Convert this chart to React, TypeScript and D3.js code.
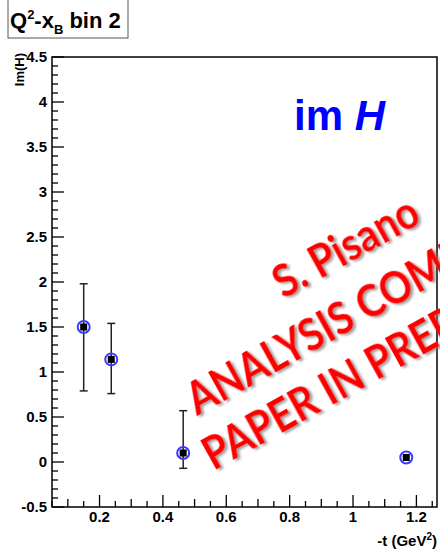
import React from "react";
import * as d3 from "d3";

// -t values (GeV^2) and Im(H) extracted per point
const tValues = [0.15, 0.237, 0.464, 1.168];
const imH = [1.5, 1.14, 0.1, 0.05];
const errHigh = [0.48, 0.4, 0.47, 0];
const errLow = [0.71, 0.38, 0.17, 0];

const xMajor = [0.2, 0.4, 0.6, 0.8, 1, 1.2];
const yMajor = [-0.5, 0, 0.5, 1, 1.5, 2, 2.5, 3, 3.5, 4, 4.5];

const watermark = ["S. Pisano", "ANALYSIS COMPLETED", "PAPER IN PREPARATION"];

const width = 440;
const height = 553;
const margin = { top: 57, right: 3, bottom: 46, left: 52 };

const App = () => {
  const x = d3.scaleLinear().domain([0.05, 1.265]).range([margin.left, width - margin.right]);
  const y = d3.scaleLinear().domain([-0.5, 4.5]).range([height - margin.bottom, margin.top]);

  const x0 = margin.left;
  const x1 = width - margin.right;
  const y0 = height - margin.bottom;
  const y1 = margin.top;

  // minor ticks: x every 0.05, y every 0.1
  const xMinor = d3.range(0.05, 1.2651, 0.05).map((v) => +v.toFixed(2));
  const yMinor = d3.range(-0.5, 4.501, 0.1).map((v) => +v.toFixed(1));

  const font = "Helvetica, Arial, 'Liberation Sans', sans-serif";

  return (
    <svg
      width={width}
      height={height}
      style={{ position: "absolute", left: 0, top: 0, background: "#fff" }}
    >
      <defs>
        <filter id="shadow" x="-10%" y="-10%" width="120%" height="130%">
          <feDropShadow dx="2" dy="2.5" stdDeviation="1.2" floodColor="#777" floodOpacity="0.7" />
        </filter>
      </defs>
      <rect width={width} height={height} fill="#fff" />

      {/* title box */}
      <rect x={8} y={-2} width={120} height={40} fill="#fff" stroke="#555" strokeWidth={1} />
      <text x={10} y={28} fontFamily={font} fontWeight="bold" fontSize={22}>
        Q<tspan fontSize={13} dy={-9}>2</tspan>
        <tspan dy={9}>-x</tspan>
        <tspan fontSize={13} dy={6}>B</tspan>
        <tspan dy={-6}> bin 2</tspan>
      </text>

      {/* frame */}
      <rect x={x0} y={y1} width={x1 - x0} height={y0 - y1} fill="none" stroke="#000" strokeWidth={1.5} />

      {/* y ticks */}
      {yMinor.map((v) => {
        const major = yMajor.some((m) => Math.abs(m - v) < 1e-6);
        return (
          <line key={"ym" + v} x1={x0} x2={x0 + (major ? 12 : 6)} y1={y(v)} y2={y(v)} stroke="#000" strokeWidth={1.3} />
        );
      })}
      {yMajor.map((v) => (
        <text
          key={"yl" + v}
          x={47}
          y={y(v)}
          dy="0.36em"
          textAnchor="end"
          fontFamily={font}
          fontWeight="bold"
          fontSize={15}
        >
          {v}
        </text>
      ))}

      {/* x ticks */}
      {xMinor.map((v) => {
        const major = xMajor.some((m) => Math.abs(m - v) < 1e-6);
        const mid = !major && Math.abs(Math.round(v * 10) - v * 10) < 1e-6;
        return (
          <line
            key={"xm" + v}
            x1={x(v)}
            x2={x(v)}
            y1={y0}
            y2={y0 - (major ? 12 : mid ? 8 : 6)}
            stroke="#000"
            strokeWidth={1.3}
          />
        );
      })}
      {xMajor.map((v) => (
        <text key={"xl" + v} x={x(v)} y={522} textAnchor="middle" fontFamily={font} fontWeight="bold" fontSize={15}>
          {v}
        </text>
      ))}

      {/* axis titles */}
      <text x={437} y={546} textAnchor="end" fontFamily={font} fontWeight="bold" fontSize={15}>
        -t (GeV<tspan fontSize={10} dy={-6}>2</tspan>
        <tspan dy={6}>)</tspan>
      </text>
      <text
        transform="translate(24,53) rotate(-90)"
        textAnchor="end"
        fontFamily={font}
        fontWeight="bold"
        fontSize={13}
      >
        Im(H)
      </text>

      {/* error bars */}
      {tValues.map((t, i) =>
        errHigh[i] + errLow[i] > 0 ? (
          <g key={"e" + i} stroke="#222" strokeWidth={1.5}>
            <line x1={x(t)} x2={x(t)} y1={y(imH[i] + errHigh[i])} y2={y(imH[i] - errLow[i])} />
            <line x1={x(t) - 4} x2={x(t) + 4} y1={y(imH[i] + errHigh[i])} y2={y(imH[i] + errHigh[i])} />
            <line x1={x(t) - 4} x2={x(t) + 4} y1={y(imH[i] - errLow[i])} y2={y(imH[i] - errLow[i])} />
          </g>
        ) : null
      )}

      {/* markers */}
      {tValues.map((t, i) => (
        <g key={"p" + i}>
          <circle cx={x(t)} cy={y(imH[i])} r={6} fill="none" stroke="#3a3aff" strokeWidth={2} />
          <rect x={x(t) - 3.5} y={y(imH[i]) - 3.5} width={7} height={7} fill="#000" />
        </g>
      ))}

      {/* im H label */}
      <text x={385} y={130} textAnchor="end" fill="#0000ff" fontFamily={font} fontWeight="bold" fontSize={42}>
        im <tspan fontStyle="italic">H</tspan>
      </text>

      {/* watermark */}
      <g
        transform="translate(197,416) rotate(-29) scale(0.87,1)"
        fill="#ff0000"
        fontFamily="Lato, 'Open Sans', sans-serif"
        fontWeight="bold"
        fontSize={46}
        filter="url(#shadow)"
      >
        <text x={152} y={-60}>{watermark[0]}</text>
        <text x={0} y={0}>{watermark[1]}</text>
        <text x={-14} y={56}>{watermark[2]}</text>
      </g>
    </svg>
  );
};

export default App;
